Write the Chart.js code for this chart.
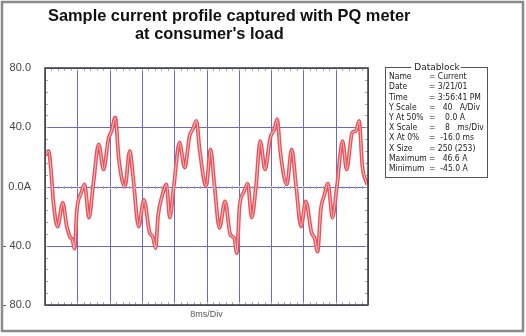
<!DOCTYPE html>
<html>
<head>
<meta charset="utf-8">
<script src="https://cdn.jsdelivr.net/npm/chart.js@4/dist/chart.umd.min.js"></script>
<style>
  html, body { margin: 0; padding: 0; background: #fff; }
  #wrap { width: 526px; height: 336px; position: relative; }
</style>
</head>
<body>
<div id="wrap"><canvas id="chart1" width="526" height="336"></canvas></div>
<script>
// time in ms (X At 0% = -16 ms, 8 ms/Div) and current in A
const timeMs = [
  -15.9, -15.1, -14.4, -13.9, -12.9, -11.6, -10.6, -9.8, -9.2, -8.7, -8.1, -7.0, -6.2, -5.1, -4.0, -2.7, -1.5, -0.3, 0.5, 1.4, 2.3, 3.8,
  5.0, 5.8, 7.2, 8.5, 9.9, 10.7, 11.4, 12.0, 13.0, 14.1, 14.9, 15.9, 17.3, 18.6, 19.8, 20.6, 21.5, 22.3, 23.9,
  25.0, 26.0, 27.2, 28.6, 29.9, 30.9, 31.5, 32.2, 33.2, 34.2, 35.2, 36.3, 37.3, 38.5, 39.8, 40.8, 41.5, 42.3, 43.9,
  45.1, 46.2, 47.4, 48.6, 50.0, 50.8, 51.5, 52.3, 53.1, 54.1, 55.2, 56.3, 57.7, 58.7, 60.1, 61.0, 61.8, 62.6, 63.8
];
const currentA = [
  21, 24, 7, -11, -27, -11, -27, -34, -36, -42, -16, -4, 1.4, -21, 2.5, 28.5, 11.5, 32, 37.5, 46.6, 18, 0,
  24, 7, -27, -9, -31, -34, -41.6, -20, -6.5, 1.4, -21, 0, 29.6, 12.7, 34, 38.6, 44.3, 25, 0,
  25, 0, -28, -10, -32.5, -35, -45, -13, -4, 2, -21, 1.4, 30.7, 11.5, 33, 38.6, 45.4, 23, 1.4,
  25, 0, -27, -10, -31, -35, -44, -15.6, -6.5, 2, -21, 0, 30.7, 11.5, 36.4, 37.5, 44.3, 13.8, 1.4
];
const yTickValues = [-80, -40, 0, 40, 80];
const yTickLabels = ["- 80.0", "- 40.0", "0.0A", "40.0", "80.0"];
const titleLines = ["Sample current profile captured with PQ meter", "at consumer's load"];
const datablockTitle = "Datablock";
const datablockRows = [
  ["Name", "= Current"],
  ["Date", "= 3/21/01"],
  ["Time", "= 3:56:41 PM"],
  ["Y Scale", "=   40   A/Div"],
  ["Y At 50%", "=    0.0 A"],
  ["X Scale", "=    8   ms/Div"],
  ["X At 0%", "=  -16.0 ms"],
  ["X Size", "= 250 (253)"],
  ["Maximum", "=   46.6 A"],
  ["Minimum", "=  -45.0 A"]
];

const points = timeMs.map((t, i) => ({ x: t, y: currentA[i] }));

const gridBlue = "#6a6ac4";

// grid, frame, title, datablock and the little tick marks of the scope screen
const decor = {
  id: "decor",
  beforeDraw(chart) {
    const c = chart.ctx;
    c.save();
    c.fillStyle = "#fff";
    c.fillRect(0, 0, chart.width, chart.height);
    c.restore();
  },
  beforeDatasetsDraw(chart) {
    const c = chart.ctx;
    const xs = chart.scales.x, ys = chart.scales.y;
    const a = chart.chartArea;
    c.save();
    c.strokeStyle = gridBlue;
    c.lineWidth = 1;
    c.beginPath();
    xs.ticks.forEach(t => {
      const px = Math.round(xs.getPixelForValue(t.value)) + 0.5;
      c.moveTo(px, a.top); c.lineTo(px, a.bottom);
    });
    ys.ticks.forEach(t => {
      const py = Math.round(ys.getPixelForValue(t.value)) + 0.5;
      c.moveTo(a.left, py); c.lineTo(a.right, py);
    });
    c.stroke();
    c.restore();
  },
  afterDatasetsDraw(chart) {
    const c = chart.ctx;
    const xs = chart.scales.x, ys = chart.scales.y;
    const a = chart.chartArea;
    c.save();
    // minor ticks
    c.strokeStyle = "#a8a8b4";
    c.lineWidth = 1;
    c.beginPath();
    const z = Math.round(ys.getPixelForValue(0)) + 0.5;
    for (let k = 0; k <= 50; k++) {
      const px = Math.round(xs.getPixelForValue(-16 + k * 1.6)) + 0.5;
      c.moveTo(px, a.top); c.lineTo(px, a.top + 3);
      c.moveTo(px, a.bottom); c.lineTo(px, a.bottom - 3);
      c.moveTo(px, z - 1.5); c.lineTo(px, z + 1.5);
    }
    for (let k = 0; k <= 20; k++) {
      const py = Math.round(ys.getPixelForValue(-80 + k * 8)) + 0.5;
      c.moveTo(a.right, py); c.lineTo(a.right - 3, py);
      c.moveTo(a.left, py); c.lineTo(a.left + 3, py);
    }
    c.stroke();
    // plot border
    c.strokeStyle = "#3a3a3a";
    c.lineWidth = 1.5;
    c.strokeRect(a.left, a.top, a.right - a.left, a.bottom - a.top);
    c.restore();
  },
  afterDraw(chart) {
    const c = chart.ctx;
    c.save();
    // outer frame
    c.strokeStyle = "#8a8a8a";
    c.lineWidth = 2.5;
    c.strokeRect(2, 2, 521, 329);
    // title
    c.fillStyle = "#111";
    c.font = "bold 16.4px 'Liberation Sans', Arial, sans-serif";
    c.textBaseline = "middle";
    c.fillText(titleLines[0], 48, 16);
    c.fillText(titleLines[1], 135, 34);
    // datablock
    const bx = 385, by = 67, bw = 102, bh = 110;
    c.strokeStyle = "#555";
    c.lineWidth = 1;
    c.strokeRect(bx + 0.5, by + 0.5, bw, bh);
    c.font = "9px 'DejaVu Sans', sans-serif";
    const tw = c.measureText(datablockTitle).width;
    c.fillStyle = "#fff";
    c.fillRect(bx + bw / 2 - tw / 2 - 2, by - 4, tw + 4, 9);
    c.fillStyle = "#222";
    c.textAlign = "center";
    c.fillText(datablockTitle, bx + bw / 2 + 1, by + 1);
    c.textAlign = "left";
    c.font = "8.5px 'DejaVu Sans Condensed', 'DejaVu Sans', sans-serif";
    datablockRows.forEach((row, i) => {
      const y = by + 10 + i * 10.2;
      c.fillText(row[0], bx + 4, y);
      c.fillText(row[1], bx + 44, y);
    });
    c.restore();
  }
};

const ctx = document.getElementById("chart1").getContext("2d");
const myChart = new Chart(ctx, {
  type: "line",
  data: {
    datasets: [
      {
        data: points,
        borderColor: "#f6b8b8",
        borderWidth: 1.1,
        pointRadius: 0,
        cubicInterpolationMode: "monotone",
        order: 1
      },
      {
        data: points,
        borderColor: "#e8535b",
        borderWidth: 3.8,
        pointRadius: 0,
        cubicInterpolationMode: "monotone",
        order: 2
      }
    ]
  },
  options: {
    responsive: false,
    animation: false,
    layout: { padding: { left: 0, right: 158, top: 68, bottom: 12 } },
    plugins: {
      legend: { display: false },
      tooltip: { enabled: false },
      title: { display: false }
    },
    scales: {
      x: {
        type: "linear",
        min: -16,
        max: 64,
        ticks: { stepSize: 8, display: false },
        grid: { display: false },
        border: { display: false },
        title: {
          display: true,
          text: "8ms/Div",
          color: "#555",
          font: { family: "'Liberation Sans', Arial, sans-serif", size: 9 },
          padding: { top: 4, bottom: 4 }
        },
        afterFit(scale) { scale.height = 19; }
      },
      y: {
        min: -80,
        max: 80,
        afterBuildTicks(scale) { scale.ticks = yTickValues.map(v => ({ value: v })); },
        ticks: {
          padding: 6,
          color: "#444",
          font: { family: "'Liberation Sans', Arial, sans-serif", size: 11 },
          callback: v => yTickLabels[yTickValues.indexOf(v)]
        },
        grid: { display: false },
        border: { display: false },
        afterFit(scale) { scale.width = 45; }
      }
    }
  },
  plugins: [decor]
});
</script>
</body>
</html>
